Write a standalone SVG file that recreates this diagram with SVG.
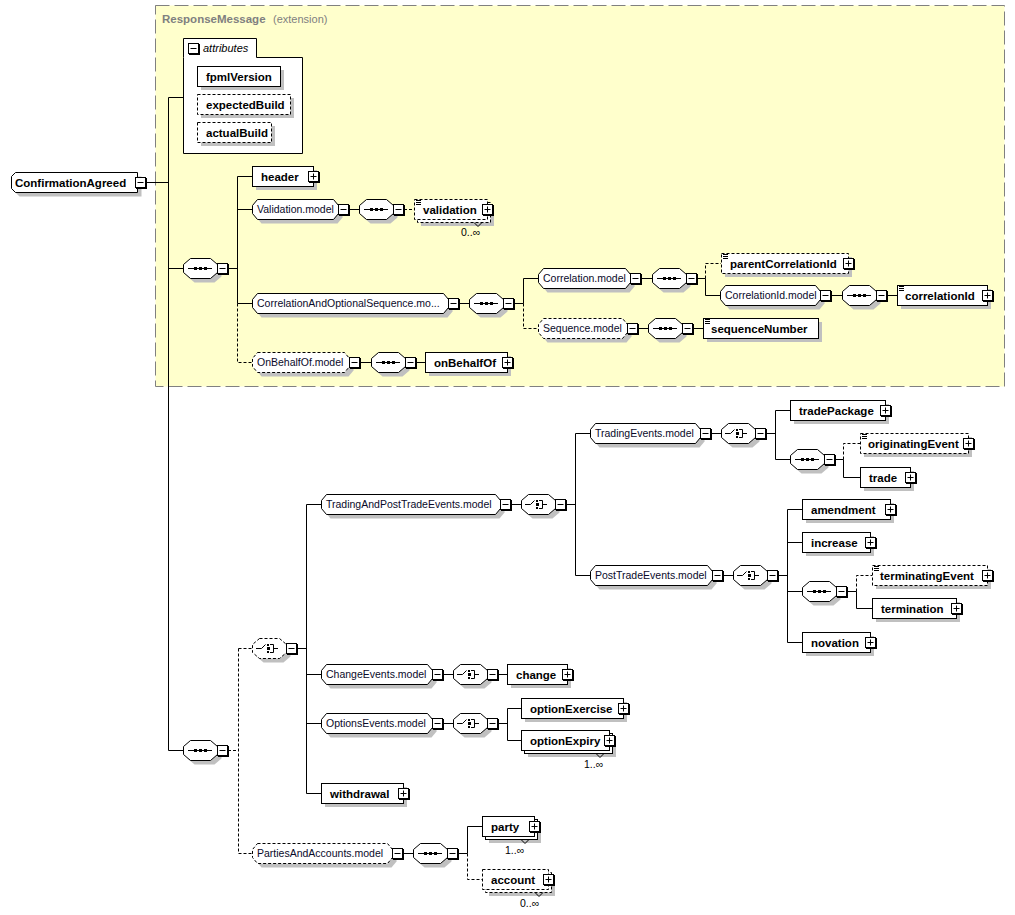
<svg xmlns="http://www.w3.org/2000/svg" width="1015" height="915" viewBox="0 0 1015 915">
<style>
.sh{fill:#c0c0c0}
.bx{fill:#fff;stroke:#000;stroke-width:1}
.d{stroke-dasharray:3,2}
.c{fill:none;stroke:#000;stroke-width:1}
.e{font-family:"Liberation Sans",Arial,sans-serif;font-size:11.5px;font-weight:bold;fill:#000}
.m{font-family:"Liberation Sans",Arial,sans-serif;font-size:10.5px;fill:#0a0a2a}
.o{font-family:"Liberation Sans",Arial,sans-serif;font-size:10.5px;fill:#000}
</style>
<defs>
<g id="mi"><rect x="1.5" y="1.5" width="10" height="10" fill="#000" stroke="#000"/><rect x="0.5" y="0.5" width="10" height="10" fill="#fff" stroke="#000"/><path d="M2.5,5.5H8.5" stroke="#000"/></g>
<g id="pl"><rect x="1.5" y="1.5" width="10" height="10" fill="#000" stroke="#000"/><rect x="0.5" y="0.5" width="10" height="10" fill="#fff" stroke="#000"/><path d="M2.5,5.5H8.5M5.5,2.5V8.5" stroke="#000"/></g>
<g id="seq">
<polygon fill="#c0c0c0" points="11.5,4.5 31.5,4.5 38.5,10.5 38.5,18.5 31.5,24.5 11.5,24.5 4.5,18.5 4.5,10.5"/>
<polygon fill="#fff" stroke="#000" points="7.5,0.5 27.5,0.5 34.5,6.5 34.5,14.5 27.5,20.5 7.5,20.5 0.5,14.5 0.5,6.5"/>
<path d="M5,10.5H29" stroke="#000"/>
<path d="M11,9h3v3h-3zM16,9h3v3h-3zM21,9h3v3h-3z" fill="#000"/>
<use href="#mi" x="34" y="5"/>
</g>
<g id="cho">
<polygon fill="#c0c0c0" points="11.5,4.5 31.5,4.5 38.5,10.5 38.5,18.5 31.5,24.5 11.5,24.5 4.5,18.5 4.5,10.5"/>
<polygon fill="#fff" stroke="#000" points="7.5,0.5 27.5,0.5 34.5,6.5 34.5,14.5 27.5,20.5 7.5,20.5 0.5,14.5 0.5,6.5"/>
<path d="M4,10.5H9.5L13.5,6.5M18,6.5H21.5V14.5H18M21.5,10.5H26" fill="none" stroke="#000"/>
<path d="M15,6h2v2h-2zM15,9h3v3h-3zM15,13h2v2h-2z" fill="#000"/>
<use href="#mi" x="34" y="5"/>
</g>
<g id="choD">
<polygon fill="#c0c0c0" points="11.5,4.5 31.5,4.5 38.5,10.5 38.5,18.5 31.5,24.5 11.5,24.5 4.5,18.5 4.5,10.5"/>
<polygon fill="#fff" stroke="#000" stroke-dasharray="3,2" points="7.5,0.5 27.5,0.5 34.5,6.5 34.5,14.5 27.5,20.5 7.5,20.5 0.5,14.5 0.5,6.5"/>
<path d="M4,10.5H9.5L13.5,6.5M18,6.5H21.5V14.5H18M21.5,10.5H26" fill="none" stroke="#000"/>
<path d="M15,6h2v2h-2zM15,9h3v3h-3zM15,13h2v2h-2z" fill="#000"/>
<use href="#mi" x="34" y="5"/>
</g>
</defs>
<rect width="1015" height="915" fill="#fff"/>

<g id="extension">
<rect x="155.5" y="5.5" width="849" height="381" fill="#ffffcc" stroke="#808080" stroke-dasharray="14,5"/>
<text x="162" y="23" font-family="Liberation Sans, Arial, sans-serif" font-size="11.5" font-weight="bold" fill="#808080">ResponseMessage</text>
<text x="273" y="23" font-family="Liberation Sans, Arial, sans-serif" font-size="11" fill="#808080">(extension)</text>
</g>

<g id="connectors" class="c">
<path d="M146,182.5H168.5M168.5,97.5V750.5M168.5,97.5H183M168.5,268.5H183M168.5,750.5H183"/>
<path d="M228,268.5H237.5M237.5,176.5V303.5M237.5,176.5H252M237.5,209.5H252M237.5,303.5H252"/>
<path class="d" d="M237.5,303.5V362.5H252"/>
<path d="M349,209.5H359"/>
<path class="d" d="M404,209.5H414"/>
<path d="M459,303.5H469M514,303.5H523.5M523.5,278.5V303.5M523.5,278.5H538"/>
<path class="d" d="M523.5,303.5V328.5H538"/>
<path d="M641,278.5H652M697,278.5H705.5M705.5,278.5V295.5H720"/>
<path class="d" d="M705.5,278.5V263.5H721"/>
<path d="M831,295.5H842M887,295.5H897"/>
<path d="M638,328.5H648M693,328.5H703"/>
<path d="M360,362.5H371M416,362.5H425"/>
<path class="d" d="M228,750.5H238.5M238.5,648.5V853.5M238.5,648.5H252M238.5,853.5H252"/>
<path d="M297,648.5H306.5M306.5,504.5V793.5M306.5,504.5H321M306.5,674.5H321M306.5,723.5H321M306.5,793.5H321"/>
<path d="M511,504.5H521M566,504.5H575.5M575.5,433.5V575.5M575.5,433.5H590M575.5,575.5H590"/>
<path d="M711,433.5H721M766,433.5H775.5M775.5,410.5V459.5M775.5,410.5H790M775.5,459.5H790"/>
<path d="M835,459.5H843.5M843.5,459.5V477.5H860"/>
<path class="d" d="M843.5,459.5V443.5H860"/>
<path d="M723,575.5H733M778,575.5H787.5M787.5,509.5V642.5M787.5,509.5H802M787.5,542.5H802M787.5,591.5H802M787.5,642.5H802"/>
<path d="M847,591.5H856.5M856.5,591.5V608.5H872"/>
<path class="d" d="M856.5,591.5V575.5H872"/>
<path d="M443,674.5H453M498,674.5H507"/>
<path d="M443,723.5H453M498,723.5H507.5M507.5,708.5V740.5M507.5,708.5H521M507.5,740.5H521"/>
<path d="M403,853.5H413M458,853.5H467.5M467.5,853.5V826.5H482"/>
<path class="d" d="M467.5,853.5V879.5H482"/>
</g>

<g id="n-root" transform="translate(11,172)">
<polygon class="sh" transform="translate(4,4)" points="4.5,0.5 126.5,0.5 126.5,20.5 4.5,20.5 0.5,16.5 0.5,4.5"/>
<polygon class="bx" points="4.5,0.5 126.5,0.5 126.5,20.5 4.5,20.5 0.5,16.5 0.5,4.5"/>
<text class="e" x="4" y="14.5">ConfirmationAgreed</text>
<use href="#mi" x="124" y="5"/>
</g>

<g id="n-attributes">
<path class="bx" d="M183.5,57.5V38.5H256.5V57.5H302.5V153.5H183.5Z"/>
<use href="#mi" x="188" y="43"/>
<text x="203" y="52" font-family="Liberation Sans, Arial, sans-serif" font-size="11" font-style="italic" fill="#000">attributes</text>
</g>
<g id="n-fpmlVersion" transform="translate(197,66)">
<rect class="sh" x="4" y="4" width="83" height="20"/><rect class="bx" x="0.5" y="0.5" width="83" height="20"/>
<text class="e" x="9" y="14.5">fpmlVersion</text>
</g>
<g id="n-expectedBuild" transform="translate(197,94)">
<rect class="sh" x="4" y="4" width="93" height="20"/><rect class="bx d" x="0.5" y="0.5" width="93" height="20"/>
<text class="e" x="9" y="14.5">expectedBuild</text>
</g>
<g id="n-actualBuild" transform="translate(197,122)">
<rect class="sh" x="4" y="4" width="74" height="20"/><rect class="bx d" x="0.5" y="0.5" width="74" height="20"/>
<text class="e" x="9" y="14.5">actualBuild</text>
</g>

<g id="n-seqA"><use href="#seq" x="183" y="258"/></g>

<g id="n-header" transform="translate(252,166)">
<rect class="sh" x="4" y="4" width="61" height="20"/><rect class="bx" x="0.5" y="0.5" width="61" height="20"/>
<text class="e" x="9" y="14.5">header</text><use href="#pl" x="56" y="5"/>
</g>

<g id="n-validationModel" transform="translate(252,199)">
<polygon class="sh" transform="translate(4,4)" points="5.5,0.5 81.5,0.5 86.5,6.5 86.5,14.5 81.5,20.5 5.5,20.5 0.5,14.5 0.5,6.5"/>
<polygon class="bx" points="5.5,0.5 81.5,0.5 86.5,6.5 86.5,14.5 81.5,20.5 5.5,20.5 0.5,14.5 0.5,6.5"/>
<text class="m" x="5" y="14">Validation.model</text><use href="#mi" x="86" y="5"/>
</g>
<g id="n-seqV"><use href="#seq" x="359" y="199"/></g>
<g id="n-validation" transform="translate(414,199)">
<rect class="sh" x="7" y="7" width="73" height="20"/>
<rect class="bx d" x="3.5" y="3.5" width="73" height="20"/>
<rect class="bx d" x="0.5" y="0.5" width="73" height="20"/>
<polyline class="c" points="60,23.5 64,27.5 68,23.5"/>
<path class="c" d="M2,1.5H7M2,3.5H7M2,5.5H7"/>
<text class="e" x="9" y="14.5">validation</text><use href="#pl" x="68" y="5"/>
<text class="o" x="47" y="37">0..∞</text>
</g>

<g id="n-corrAndOpt" transform="translate(252,293)">
<polygon class="sh" transform="translate(4,4)" points="5.5,0.5 191.5,0.5 196.5,6.5 196.5,14.5 191.5,20.5 5.5,20.5 0.5,14.5 0.5,6.5"/>
<polygon class="bx" points="5.5,0.5 191.5,0.5 196.5,6.5 196.5,14.5 191.5,20.5 5.5,20.5 0.5,14.5 0.5,6.5"/>
<text class="m" x="5" y="14">CorrelationAndOptionalSequence.mo...</text><use href="#mi" x="196" y="5"/>
</g>
<g id="n-seqC"><use href="#seq" x="469" y="293"/></g>

<g id="n-correlationModel" transform="translate(538,268)">
<polygon class="sh" transform="translate(4,4)" points="5.5,0.5 87.5,0.5 92.5,6.5 92.5,14.5 87.5,20.5 5.5,20.5 0.5,14.5 0.5,6.5"/>
<polygon class="bx" points="5.5,0.5 87.5,0.5 92.5,6.5 92.5,14.5 87.5,20.5 5.5,20.5 0.5,14.5 0.5,6.5"/>
<text class="m" x="5" y="14">Correlation.model</text><use href="#mi" x="92" y="5"/>
</g>
<g id="n-seqCo"><use href="#seq" x="652" y="268"/></g>
<g id="n-parentCorrelationId" transform="translate(721,253)">
<rect class="sh" x="4" y="4" width="127" height="20"/><rect class="bx d" x="0.5" y="0.5" width="127" height="20"/>
<path class="c" d="M2,1.5H7M2,3.5H7M2,5.5H7"/>
<text class="e" x="9" y="14.5">parentCorrelationId</text><use href="#pl" x="122" y="5"/>
</g>
<g id="n-correlationIdModel" transform="translate(720,285)">
<polygon class="sh" transform="translate(4,4)" points="5.5,0.5 95.5,0.5 100.5,6.5 100.5,14.5 95.5,20.5 5.5,20.5 0.5,14.5 0.5,6.5"/>
<polygon class="bx" points="5.5,0.5 95.5,0.5 100.5,6.5 100.5,14.5 95.5,20.5 5.5,20.5 0.5,14.5 0.5,6.5"/>
<text class="m" x="5" y="14">CorrelationId.model</text><use href="#mi" x="100" y="5"/>
</g>
<g id="n-seqCI"><use href="#seq" x="842" y="285"/></g>
<g id="n-correlationId" transform="translate(897,285)">
<rect class="sh" x="4" y="4" width="90" height="20"/><rect class="bx" x="0.5" y="0.5" width="90" height="20"/>
<path class="c" d="M2,1.5H7M2,3.5H7M2,5.5H7"/>
<text class="e" x="8" y="14.5">correlationId</text><use href="#pl" x="85" y="5"/>
</g>
<g id="n-sequenceModel" transform="translate(538,318)">
<polygon class="sh" transform="translate(4,4)" points="5.5,0.5 84.5,0.5 89.5,6.5 89.5,14.5 84.5,20.5 5.5,20.5 0.5,14.5 0.5,6.5"/>
<polygon class="bx d" points="5.5,0.5 84.5,0.5 89.5,6.5 89.5,14.5 84.5,20.5 5.5,20.5 0.5,14.5 0.5,6.5"/>
<text class="m" x="5" y="14">Sequence.model</text><use href="#mi" x="89" y="5"/>
</g>
<g id="n-seqS"><use href="#seq" x="648" y="318"/></g>
<g id="n-sequenceNumber" transform="translate(703,318)">
<rect class="sh" x="4" y="4" width="115" height="20"/><rect class="bx" x="0.5" y="0.5" width="115" height="20"/>
<path class="c" d="M2,1.5H7M2,3.5H7M2,5.5H7"/>
<text class="e" x="8" y="14.5">sequenceNumber</text>
</g>

<g id="n-onBehalfOfModel" transform="translate(252,352)">
<polygon class="sh" transform="translate(4,4)" points="5.5,0.5 92.5,0.5 97.5,6.5 97.5,14.5 92.5,20.5 5.5,20.5 0.5,14.5 0.5,6.5"/>
<polygon class="bx d" points="5.5,0.5 92.5,0.5 97.5,6.5 97.5,14.5 92.5,20.5 5.5,20.5 0.5,14.5 0.5,6.5"/>
<text class="m" x="5" y="14">OnBehalfOf.model</text><use href="#mi" x="97" y="5"/>
</g>
<g id="n-seqO"><use href="#seq" x="371" y="352"/></g>
<g id="n-onBehalfOf" transform="translate(425,352)">
<rect class="sh" x="4" y="4" width="82" height="20"/><rect class="bx" x="0.5" y="0.5" width="82" height="20"/>
<text class="e" x="9" y="14.5">onBehalfOf</text><use href="#pl" x="77" y="5"/>
</g>

<g id="n-seqB"><use href="#seq" x="183" y="740"/></g>
<g id="n-choC"><use href="#choD" x="252" y="638"/></g>

<g id="n-tradingAndPost" transform="translate(321,494)">
<polygon class="sh" transform="translate(4,4)" points="5.5,0.5 174.5,0.5 179.5,6.5 179.5,14.5 174.5,20.5 5.5,20.5 0.5,14.5 0.5,6.5"/>
<polygon class="bx" points="5.5,0.5 174.5,0.5 179.5,6.5 179.5,14.5 174.5,20.5 5.5,20.5 0.5,14.5 0.5,6.5"/>
<text class="m" x="5" y="14">TradingAndPostTradeEvents.model</text><use href="#mi" x="179" y="5"/>
</g>
<g id="n-choTP"><use href="#cho" x="521" y="494"/></g>

<g id="n-tradingEvents" transform="translate(590,423)">
<polygon class="sh" transform="translate(4,4)" points="5.5,0.5 105.5,0.5 110.5,6.5 110.5,14.5 105.5,20.5 5.5,20.5 0.5,14.5 0.5,6.5"/>
<polygon class="bx" points="5.5,0.5 105.5,0.5 110.5,6.5 110.5,14.5 105.5,20.5 5.5,20.5 0.5,14.5 0.5,6.5"/>
<text class="m" x="5" y="14">TradingEvents.model</text><use href="#mi" x="110" y="5"/>
</g>
<g id="n-choTE"><use href="#cho" x="721" y="423"/></g>
<g id="n-tradePackage" transform="translate(790,400)">
<rect class="sh" x="4" y="4" width="95" height="20"/><rect class="bx" x="0.5" y="0.5" width="95" height="20"/>
<text class="e" x="9" y="14.5">tradePackage</text><use href="#pl" x="90" y="5"/>
</g>
<g id="n-seqTE"><use href="#seq" x="790" y="449"/></g>
<g id="n-originatingEvent" transform="translate(860,433)">
<rect class="sh" x="4" y="4" width="108" height="20"/><rect class="bx d" x="0.5" y="0.5" width="108" height="20"/>
<path class="c" d="M2,1.5H7M2,3.5H7M2,5.5H7"/>
<text class="e" x="8" y="14.5">originatingEvent</text><use href="#pl" x="103" y="5"/>
</g>
<g id="n-trade" transform="translate(860,467)">
<rect class="sh" x="4" y="4" width="50" height="20"/><rect class="bx" x="0.5" y="0.5" width="50" height="20"/>
<text class="e" x="9" y="14.5">trade</text><use href="#pl" x="45" y="5"/>
</g>

<g id="n-postTradeEvents" transform="translate(590,565)">
<polygon class="sh" transform="translate(4,4)" points="5.5,0.5 117.5,0.5 122.5,6.5 122.5,14.5 117.5,20.5 5.5,20.5 0.5,14.5 0.5,6.5"/>
<polygon class="bx" points="5.5,0.5 117.5,0.5 122.5,6.5 122.5,14.5 117.5,20.5 5.5,20.5 0.5,14.5 0.5,6.5"/>
<text class="m" x="5" y="14">PostTradeEvents.model</text><use href="#mi" x="122" y="5"/>
</g>
<g id="n-choPT"><use href="#cho" x="733" y="565"/></g>
<g id="n-amendment" transform="translate(802,499)">
<rect class="sh" x="4" y="4" width="88" height="20"/><rect class="bx" x="0.5" y="0.5" width="88" height="20"/>
<text class="e" x="9" y="14.5">amendment</text><use href="#pl" x="83" y="5"/>
</g>
<g id="n-increase" transform="translate(802,532)">
<rect class="sh" x="4" y="4" width="68" height="20"/><rect class="bx" x="0.5" y="0.5" width="68" height="20"/>
<text class="e" x="9" y="14.5">increase</text><use href="#pl" x="63" y="5"/>
</g>
<g id="n-seqPT"><use href="#seq" x="802" y="581"/></g>
<g id="n-terminatingEvent" transform="translate(872,565)">
<rect class="sh" x="4" y="4" width="115" height="20"/><rect class="bx d" x="0.5" y="0.5" width="115" height="20"/>
<path class="c" d="M2,1.5H7M2,3.5H7M2,5.5H7"/>
<text class="e" x="8" y="14.5">terminatingEvent</text><use href="#pl" x="110" y="5"/>
</g>
<g id="n-termination" transform="translate(872,598)">
<rect class="sh" x="4" y="4" width="84" height="20"/><rect class="bx" x="0.5" y="0.5" width="84" height="20"/>
<text class="e" x="9" y="14.5">termination</text><use href="#pl" x="79" y="5"/>
</g>
<g id="n-novation" transform="translate(802,632)">
<rect class="sh" x="4" y="4" width="68" height="20"/><rect class="bx" x="0.5" y="0.5" width="68" height="20"/>
<text class="e" x="9" y="14.5">novation</text><use href="#pl" x="63" y="5"/>
</g>

<g id="n-changeEvents" transform="translate(321,664)">
<polygon class="sh" transform="translate(4,4)" points="5.5,0.5 106.5,0.5 111.5,6.5 111.5,14.5 106.5,20.5 5.5,20.5 0.5,14.5 0.5,6.5"/>
<polygon class="bx" points="5.5,0.5 106.5,0.5 111.5,6.5 111.5,14.5 106.5,20.5 5.5,20.5 0.5,14.5 0.5,6.5"/>
<text class="m" x="5" y="14">ChangeEvents.model</text><use href="#mi" x="111" y="5"/>
</g>
<g id="n-choCE"><use href="#cho" x="453" y="664"/></g>
<g id="n-change" transform="translate(507,664)">
<rect class="sh" x="4" y="4" width="60" height="20"/><rect class="bx" x="0.5" y="0.5" width="60" height="20"/>
<text class="e" x="9" y="14.5">change</text><use href="#pl" x="55" y="5"/>
</g>

<g id="n-optionsEvents" transform="translate(321,713)">
<polygon class="sh" transform="translate(4,4)" points="5.5,0.5 106.5,0.5 111.5,6.5 111.5,14.5 106.5,20.5 5.5,20.5 0.5,14.5 0.5,6.5"/>
<polygon class="bx" points="5.5,0.5 106.5,0.5 111.5,6.5 111.5,14.5 106.5,20.5 5.5,20.5 0.5,14.5 0.5,6.5"/>
<text class="m" x="5" y="14">OptionsEvents.model</text><use href="#mi" x="111" y="5"/>
</g>
<g id="n-choOE"><use href="#cho" x="453" y="713"/></g>
<g id="n-optionExercise" transform="translate(521,698)">
<rect class="sh" x="4" y="4" width="102" height="20"/><rect class="bx" x="0.5" y="0.5" width="102" height="20"/>
<text class="e" x="9" y="14.5">optionExercise</text><use href="#pl" x="97" y="5"/>
</g>
<g id="n-optionExpiry" transform="translate(521,730)">
<rect class="sh" x="7" y="7" width="88" height="20"/>
<rect class="bx" x="3.5" y="3.5" width="88" height="20"/>
<rect class="bx" x="0.5" y="0.5" width="88" height="20"/>
<polyline class="c" points="75,23.5 79,27.5 83,23.5"/>
<text class="e" x="9" y="14.5">optionExpiry</text><use href="#pl" x="83" y="5"/>
<text class="o" x="63" y="38">1..∞</text>
</g>
<g id="n-withdrawal" transform="translate(321,783)">
<rect class="sh" x="4" y="4" width="82" height="20"/><rect class="bx" x="0.5" y="0.5" width="82" height="20"/>
<text class="e" x="9" y="14.5">withdrawal</text><use href="#pl" x="77" y="5"/>
</g>

<g id="n-partiesAndAccounts" transform="translate(252,843)">
<polygon class="sh" transform="translate(4,4)" points="5.5,0.5 135.5,0.5 140.5,6.5 140.5,14.5 135.5,20.5 5.5,20.5 0.5,14.5 0.5,6.5"/>
<polygon class="bx d" points="5.5,0.5 135.5,0.5 140.5,6.5 140.5,14.5 135.5,20.5 5.5,20.5 0.5,14.5 0.5,6.5"/>
<text class="m" x="5" y="14">PartiesAndAccounts.model</text><use href="#mi" x="140" y="5"/>
</g>
<g id="n-seqPA"><use href="#seq" x="413" y="843"/></g>
<g id="n-party" transform="translate(482,816)">
<rect class="sh" x="7" y="7" width="52" height="20"/>
<rect class="bx" x="3.5" y="3.5" width="52" height="20"/>
<rect class="bx" x="0.5" y="0.5" width="52" height="20"/>
<polyline class="c" points="39,23.5 43,27.5 47,23.5"/>
<text class="e" x="9" y="14.5">party</text><use href="#pl" x="47" y="5"/>
<text class="o" x="23" y="38">1..∞</text>
</g>
<g id="n-account" transform="translate(482,869)">
<rect class="sh" x="7" y="7" width="66" height="20"/>
<rect class="bx d" x="3.5" y="3.5" width="66" height="20"/>
<rect class="bx d" x="0.5" y="0.5" width="66" height="20"/>
<polyline class="c" points="53,23.5 57,27.5 61,23.5"/>
<text class="e" x="9" y="14.5">account</text><use href="#pl" x="61" y="5"/>
<text class="o" x="38" y="38">0..∞</text>
</g>
</svg>
